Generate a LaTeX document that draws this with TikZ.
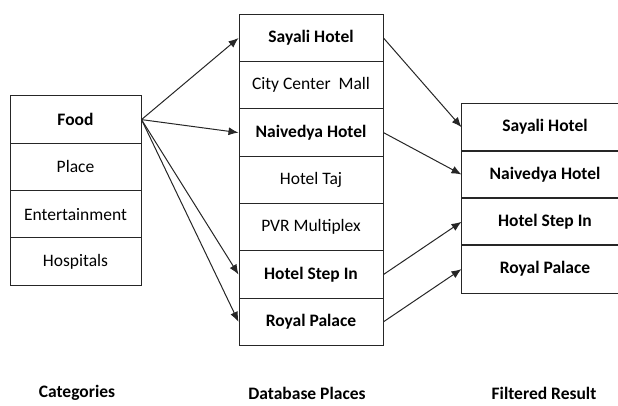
\documentclass[tikz,border=0pt]{standalone}
\usepackage{fontspec}
\setmainfont{Carlito}
\usetikzlibrary{arrows.meta}
\begin{document}
\begin{tikzpicture}[x=1pt,y=-1pt,
  cell/.style={draw=black!85,line width=1pt,inner sep=0pt,font=\fontsize{17.5}{20}\selectfont},
  bcell/.style={font=\fontsize{17.5}{20}\selectfont\bfseries},
  lcell/.style={cell,minimum width=131pt,minimum height=47.3pt},
  mcell/.style={cell,minimum width=144pt,minimum height=47.3pt},
  rcell/.style={cell,draw=none,minimum width=166pt,minimum height=47.3pt},
  rbox/.style={draw=black!85,line width=1pt},
  arr/.style={draw=black!85,line width=1pt,-{Latex[length=10pt,width=8pt]}},
  captext/.style={font=\fontsize{17.5}{20}\selectfont\bfseries}]
\useasboundingbox (0,0) rectangle (618,405);
% left
\node[lcell,bcell] (food) at (75.5,119.6) {Food};
\node[lcell] (place) at (75.5,166.9) {Place};
\node[lcell] (ent) at (75.5,214.2) {Entertainment};
\node[lcell] (hosp) at (75.5,261.5) {Hospitals};
% middle
\node[mcell,bcell] (say) at (311,38) {Sayali Hotel};
\node[mcell] (ccm) at (311,85.3) {City Center\ \ Mall};
\node[mcell,bcell] (nai) at (311,132.6) {Naivedya Hotel};
\node[mcell] (taj) at (311,179.9) {Hotel Taj};
\node[mcell] (pvr) at (311,227.2) {PVR Multiplex};
\node[mcell,bcell] (step) at (311,274.5) {Hotel Step In};
\node[mcell,bcell] (royal) at (311,321.8) {Royal Palace};
% right
\node[rcell,bcell] (rsay) at (545,127.2) {Sayali Hotel};
\node[rcell,bcell] (rnai) at (545,174.5) {Naivedya Hotel};
\node[rcell,bcell] (rstep) at (545,221.8) {Hotel Step In};
\node[rcell,bcell] (rroyal) at (545,269.1) {Royal Palace};
\foreach \n in {rsay,rnai,rstep,rroyal}
  \draw[rbox] ([xshift=40pt]\n.north east) -- (\n.north west) -- (\n.south west) -- ([xshift=40pt]\n.south east);
% arrows
\draw[arr] (food.east) -- (say.west);
\draw[arr] (food.east) -- (nai.west);
\draw[arr] (food.east) -- (step.west);
\draw[arr] (food.east) -- (royal.west);
\draw[arr] (say.east) -- (rsay.west);
\draw[arr] (nai.east) -- (rnai.west);
\draw[arr] (step.east) -- (rstep.west);
\draw[arr] (royal.east) -- (rroyal.west);
% captions
\node[captext] (c1) at (77,393) {Categories};
\node[captext] (c2) at (307,393) {Database Places};
\node[captext] (c3) at (544,393) {Filtered Result};
\end{tikzpicture}
\end{document}
